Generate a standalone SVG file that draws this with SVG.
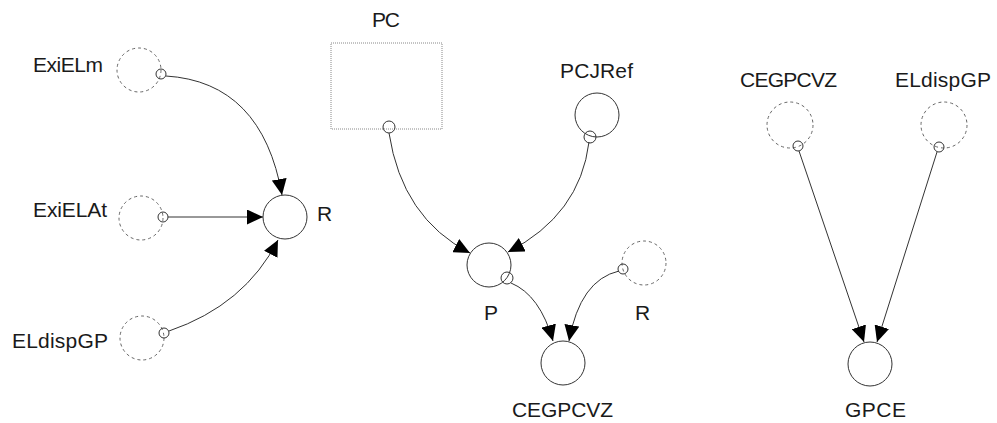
<svg xmlns="http://www.w3.org/2000/svg" width="997" height="423" viewBox="0 0 997 423">
<style>
text{font-family:"Liberation Sans",Arial,sans-serif;font-size:21px;fill:#1a1a1a;}
.aux{fill:none;stroke:#666;stroke-width:1;stroke-dasharray:3,3;}
.var{fill:#fff;stroke:#333;stroke-width:1;}
.box{fill:none;stroke:#888;stroke-width:1;stroke-dasharray:1,1;}
.port{fill:none;stroke:#333;stroke-width:1;}
.con{fill:none;stroke:#333;stroke-width:1;marker-end:url(#ah);}
</style>
<defs>
<marker id="ah" markerUnits="userSpaceOnUse" markerWidth="16" markerHeight="15" refX="16" refY="7.5" orient="auto">
<path d="M0,0 L16,7.5 L0,15 Z" fill="#000"/>
</marker>
</defs>
<rect width="997" height="423" fill="#fff"/>
<g id="connectors">
<path class="con" d="M166,76 Q262,82 282,195"/>
<path class="con" d="M168,217 L263,217"/>
<path class="con" d="M169,331 Q245,305 278,240"/>
<path class="con" d="M389,133 Q402,218 470,253"/>
<path class="con" d="M589,142 Q580,215 508,252"/>
<path class="con" d="M511,283 Q540,295 553,341"/>
<path class="con" d="M619,271 Q580,280 569,341"/>
<path class="con" d="M799,151 L864,342"/>
<path class="con" d="M937,152 L877,342"/>
</g>
<g id="ExiELm">
<circle class="aux" cx="139" cy="70" r="22"/>
<circle class="port" cx="161" cy="74" r="5"/>
<text x="33" y="72" textLength="70" lengthAdjust="spacing">ExiELm</text>
</g>
<g id="ExiELAt">
<circle class="aux" cx="141" cy="218" r="22"/>
<circle class="port" cx="163" cy="217" r="5"/>
<text x="33" y="217" textLength="74" lengthAdjust="spacing">ExiELAt</text>
</g>
<g id="ELdispGP_left">
<circle class="aux" cx="142" cy="338" r="22"/>
<circle class="port" cx="164" cy="333" r="5"/>
<text x="12" y="348" textLength="96" lengthAdjust="spacing">ELdispGP</text>
</g>
<g id="R_left">
<circle class="var" cx="285" cy="217" r="22"/>
<text x="317" y="221">R</text>
</g>
<g id="PC">
<rect class="box" x="331" y="43" width="111" height="86"/>
<circle class="port" cx="389" cy="127" r="6"/>
<text x="372" y="27" textLength="28" lengthAdjust="spacing">PC</text>
</g>
<g id="PCJRef">
<circle class="var" cx="597" cy="115" r="22"/>
<circle class="port" cx="590" cy="137" r="6"/>
<text x="560" y="78" textLength="73" lengthAdjust="spacing">PCJRef</text>
</g>
<g id="P">
<circle class="var" cx="489" cy="265" r="22"/>
<circle class="port" cx="507" cy="278" r="6"/>
<text x="484" y="320">P</text>
</g>
<g id="R_mid">
<circle class="aux" cx="644" cy="263" r="22"/>
<circle class="port" cx="623" cy="269" r="5"/>
<text x="635" y="320">R</text>
</g>
<g id="CEGPCVZ_mid">
<circle class="var" cx="563" cy="363" r="22"/>
<text x="512" y="417" textLength="101" lengthAdjust="spacing">CEGPCVZ</text>
</g>
<g id="CEGPCVZ_right">
<circle class="aux" cx="790" cy="125" r="23"/>
<circle class="port" cx="798" cy="146" r="5"/>
<text x="740" y="87" textLength="97" lengthAdjust="spacing">CEGPCVZ</text>
</g>
<g id="ELdispGP_right">
<circle class="aux" cx="944" cy="125" r="23"/>
<circle class="port" cx="939" cy="147" r="5"/>
<text x="895" y="87" textLength="96" lengthAdjust="spacing">ELdispGP</text>
</g>
<g id="GPCE">
<circle class="var" cx="870" cy="364" r="22"/>
<text x="845" y="417" textLength="61" lengthAdjust="spacing">GPCE</text>
</g>
</svg>
